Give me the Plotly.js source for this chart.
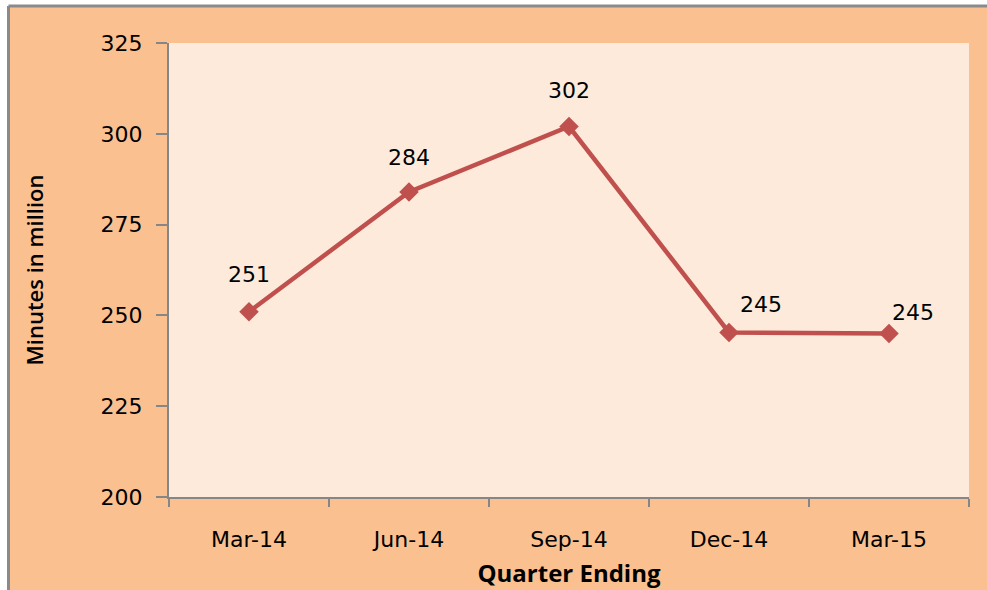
<!DOCTYPE html>
<html>
<head>
<meta charset="utf-8">
<script src="https://cdn.plot.ly/plotly-3.0.1.min.js"></script>
<style>html,body{margin:0;padding:0;background:#fff;}</style>
</head>
<body>
<div id="chart" style="width:987px;height:590px;"></div>
<script>
const quarters = ["Mar-14", "Jun-14", "Sep-14", "Dec-14", "Mar-15"];
const minutes = [251, 284, 302, 245.3, 245];
const valueLabels = ["251", "284", "302", "245", "245"];
const yTicks = [200, 225, 250, 275, 300, 325];

// label offsets in pixels (styling only)
const labelDX = [0, 0, 0, 32, 24];
const labelDY = [37, 34, 36, 28, 21];

const tickFont = {family: "DejaVu Sans", size: 22, color: "#000"};

const annotations = quarters.map((q, i) => ({
  x: q, y: minutes[i], xref: "x", yref: "y",
  text: valueLabels[i], showarrow: false,
  xshift: labelDX[i], yshift: labelDY[i],
  font: tickFont
}));

const W = 800, H = 454, L = 169, T = 43;
const px = v => (v - L) / W;
const py = v => (T + H - v) / H;

const shapes = [
  {type: "rect", xref: "paper", yref: "paper", x0: px(0), x1: px(987), y0: py(6), y1: py(0), fillcolor: "#ffffff", line: {width: 0}, layer: "above"},
  {type: "rect", xref: "paper", yref: "paper", x0: px(0), x1: px(7), y0: py(590), y1: py(0), fillcolor: "#ffffff", line: {width: 0}, layer: "above"},
  {type: "line", xref: "paper", yref: "paper", x0: px(8.5), x1: px(987), y0: py(6), y1: py(6), line: {color: "#8a8a8a", width: 3}},
  {type: "line", xref: "paper", yref: "paper", x0: px(8.5), x1: px(8.5), y0: py(6), y1: py(590), line: {color: "#8a8a8a", width: 3}}
];

const trace = {
  x: quarters, y: minutes, type: "scatter", mode: "lines+markers",
  line: {color: "#C0504D", width: 4.5},
  marker: {symbol: "diamond", size: 15, color: "#C0504D"},
  hoverinfo: "x+y"
};

const layout = {
  width: 987, height: 590,
  margin: {l: L, r: 987 - L - W, t: T, b: 590 - T - H, pad: 0},
  paper_bgcolor: "#FAC090",
  plot_bgcolor: "#FDEADA",
  showlegend: false,
  xaxis: {
    type: "category", range: [-0.5, 4.5],
    showline: true, linecolor: "#868686", linewidth: 2,
    ticks: "outside", tickson: "boundaries", ticklen: 8, tickcolor: "#868686", tickwidth: 2,
    showgrid: false, zeroline: false,
    tickfont: tickFont, ticklabelstandoff: 22,
    title: {text: "Quarter Ending", font: {family: "Open Sans", size: 24, weight: 700, color: "#000"}, standoff: 14}
  },
  yaxis: {
    range: [200, 325], tickvals: yTicks,
    showline: true, linecolor: "#868686", linewidth: 2,
    ticks: "outside", ticklen: 11, tickcolor: "#868686", tickwidth: 2,
    showgrid: false, zeroline: false,
    tickfont: tickFont, ticklabelstandoff: 9,
    title: {text: "Minutes in million", font: {family: "Open Sans", size: 22, weight: 600, color: "#000"}, standoff: 51}
  },
  annotations: annotations,
  shapes: shapes
};

Plotly.newPlot("chart", [trace], layout, {displayModeBar: false, staticPlot: true});
</script>
</body>
</html>
